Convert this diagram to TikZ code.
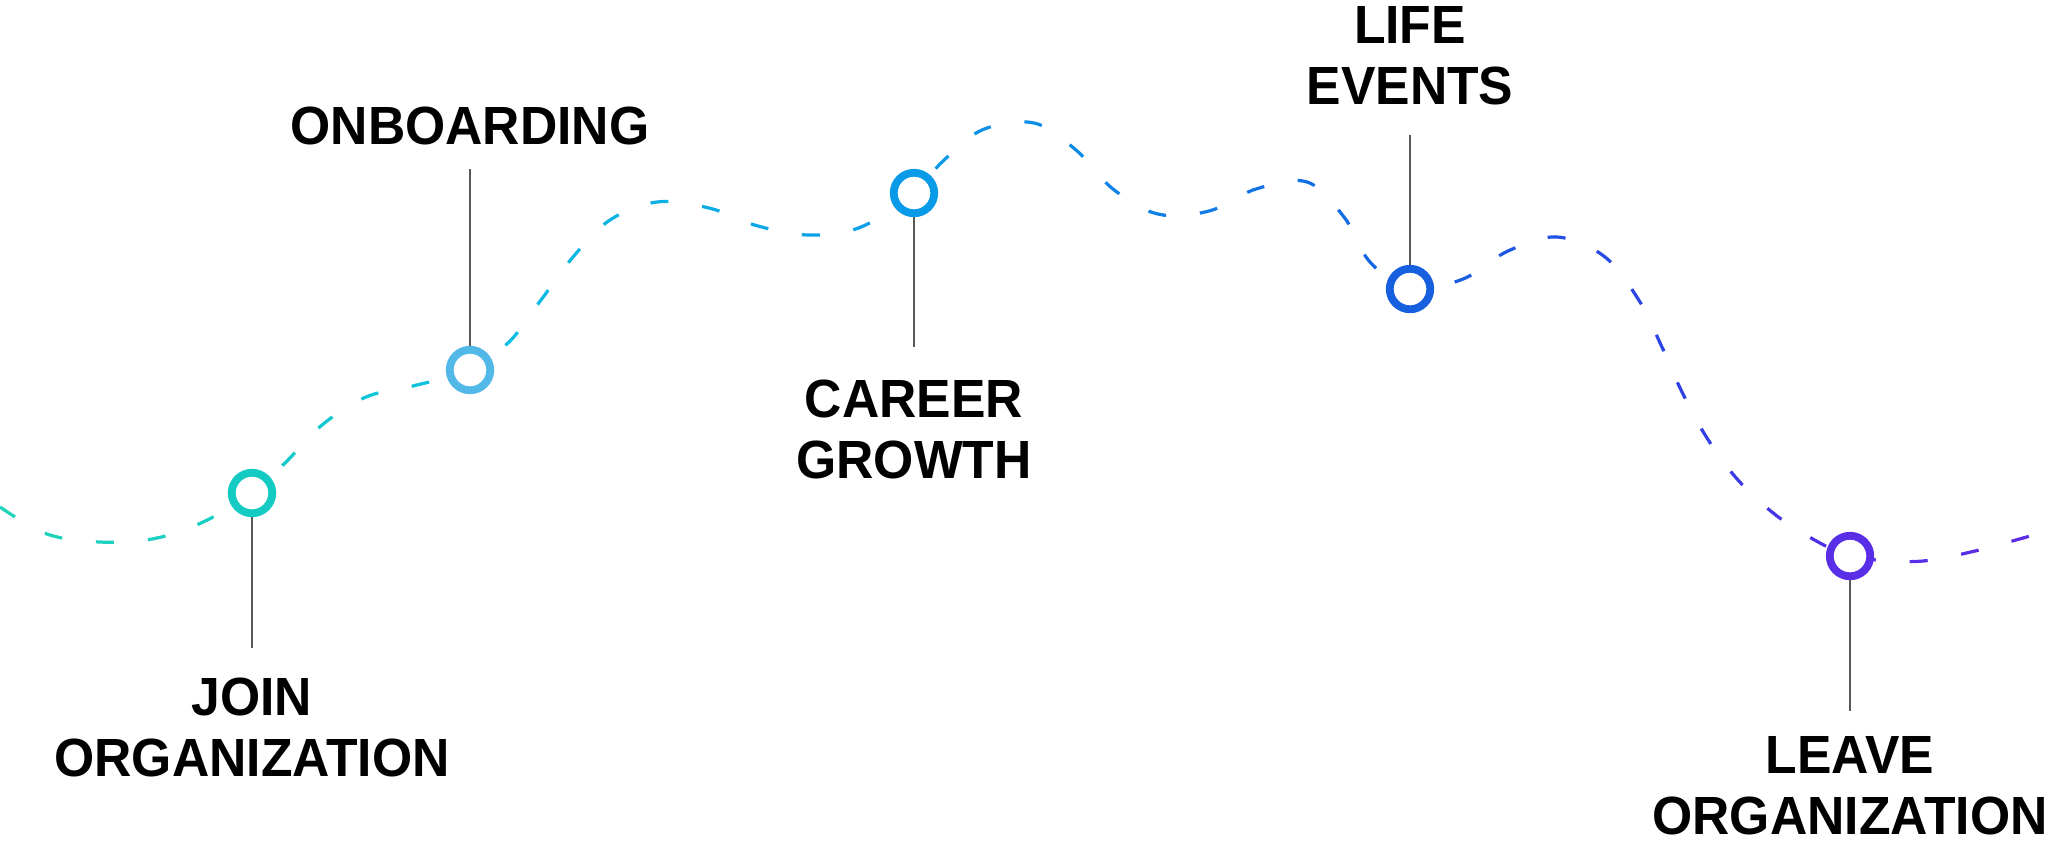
\documentclass[tikz,border=0pt]{standalone}
\usepackage{fontspec}
\setmainfont{Liberation Sans}[FakeStretch=0.96]

\definecolor{joincol}{HTML}{14CBC4}
\definecolor{onbcol}{HTML}{52B8E8}
\definecolor{carcol}{HTML}{0A9BE8}
\definecolor{lifecol}{HTML}{1660E0}
\definecolor{leavecol}{HTML}{5A2DE6}
\definecolor{stemgray}{HTML}{595959}
\definecolor{trailA}{HTML}{22D4B8}
\definecolor{trailB}{HTML}{14CCC8}
\definecolor{trailC}{HTML}{0DBFE2}
\definecolor{trailD}{HTML}{0A9CE8}
\definecolor{trailE}{HTML}{1562E2}
\definecolor{trailF}{HTML}{3040E4}
\definecolor{trailG}{HTML}{5A2DE6}

\def\trailpath{plot[smooth, tension=0.6] coordinates {
	(0,507) (47,534) (100,542) (152,539) (201,523) (252,493) (285,463)
	(322,425) (366,397) (417,385) (470,370) (509,342) (541,300) (573,257)
	(610,220) (657,202) (709,208) (758,226) (810,235) (861,227) (914,193)
	(942,162) (982,130) (1034,123) (1076,150) (1113,189) (1158,214)
	(1209,211) (1256,189) (1307,182) (1344,217) (1370,262) (1410,289)
	(1463,279) (1508,251) (1557,237) (1605,257) (1640,302) (1661,345)
	(1682,392) (1707,438) (1738,480) (1777,516) (1820,543) (1850,556)
	(1877,560) (1923,561) (1975,551) (2023,538) (2048,531)}}

\begin{document}
\begin{tikzpicture}[x=0.01cm, y=-0.01cm,
		trail/.style={line width=0.032cm, dash pattern=on 0.18cm off 0.34cm},
		stop/.style={circle, fill=white, line width=0.078cm, minimum size=0.405cm, inner sep=0pt},
		stem/.style={stemgray, line width=0.024cm},
		tag/.style={font=\fontsize{15.3}{17.36}\selectfont\bfseries, align=center, inner sep=0pt}]

		\useasboundingbox (0,0) rectangle (2048,850);

		% dashed trail, coloured strip by strip
		\foreach \xa/\xb/\ca/\cb in {0/250/trailA/trailB, 250/470/trailB/trailC,
				470/915/trailC/trailD, 915/1410/trailD/trailE, 1410/1700/trailE/trailF,
				1700/1850/trailF/trailG, 1850/2048/trailG/trailG}{
			\foreach \k in {0,...,7}{
				\pgfmathsetmacro{\pct}{100-(\k+0.5)*12.5}
				\colorlet{trailcol}{\ca!\pct!\cb}
				\begin{scope}
					\clip ({\xa+\k*(\xb-\xa)/8},-10) rectangle ({\xa+(\k+1)*(\xb-\xa)/8+0.5},860);
					\draw[trail, trailcol] \trailpath;
				\end{scope}
			}
		}

		% stops
		\node[stop, draw=joincol] (join) at (252,493) {};
		\node[stop, draw=onbcol] (onboard) at (470,370) {};
		\node[stop, draw=carcol] (career) at (914,193) {};
		\node[stop, draw=lifecol] (life) at (1410,289) {};
		\node[stop, draw=leavecol] (leave) at (1850,556) {};

		% stems
		\coordinate (joinend) at (252,648);
		\coordinate (onboardend) at (470,169);
		\coordinate (careerend) at (914,347);
		\coordinate (lifeend) at (1410,135);
		\coordinate (leaveend) at (1850,711);
		\draw[stem] (join) -- (joinend);
		\draw[stem] (onboard) -- (onboardend);
		\draw[stem] (career) -- (careerend);
		\draw[stem] (life) -- (lifeend);
		\draw[stem] (leave) -- (leaveend);

		% labels
		\node[tag, anchor=north] (jointext) at (252,677) {JOIN\\ORGANIZATION};
		\node[tag, anchor=south] (onboardtext) at (470,146) {ONBOARDING};
		\node[tag, anchor=north] (careertext) at (914,379) {CAREER\\GROWTH};
		\node[tag, anchor=south] (lifetext) at (1410,106) {LIFE\\EVENTS};
		\node[tag, anchor=north] (leavetext) at (1850,736) {LEAVE\\ORGANIZATION};

	\end{tikzpicture}
\end{document}
